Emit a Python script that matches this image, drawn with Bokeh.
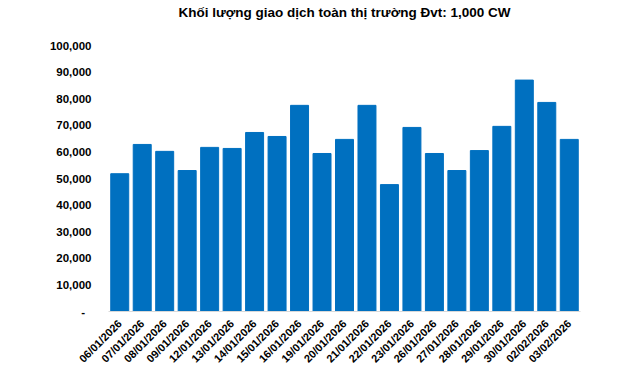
import math
from bokeh.plotting import figure
from bokeh.models import FactorRange, Range1d, CustomJSTickFormatter, FixedTicker, Title
from bokeh.embed import file_html
from bokeh.resources import INLINE

dates = ["06/01/2026", "07/01/2026", "08/01/2026", "09/01/2026", "12/01/2026",
         "13/01/2026", "14/01/2026", "15/01/2026", "16/01/2026", "19/01/2026",
         "20/01/2026", "21/01/2026", "22/01/2026", "23/01/2026", "26/01/2026",
         "27/01/2026", "28/01/2026", "29/01/2026", "30/01/2026", "02/02/2026",
         "03/02/2026"]
volumes = [51800, 62800, 60200, 53000, 61700, 61300, 67300, 65800, 77500, 59400,
           64700, 77500, 47700, 69200, 59400, 53000, 60500, 69600, 87000, 78600,
           64700]
y_ticks = [0, 10000, 20000, 30000, 40000, 50000, 60000, 70000, 80000, 90000, 100000]
title_text = "Khối lượng giao dịch toàn thị trường Đvt: 1,000 CW"

FONT = "Liberation Sans"

p = figure(width=640, height=372, x_range=FactorRange(*dates),
           y_range=Range1d(0, 100000), output_backend="svg",
           toolbar_location=None, title=None,
           min_border_left=108, min_border_right=60,
           min_border_top=0, min_border_bottom=61)

p.vbar(x=dates, top=volumes, width=0.8, color="#0070C0")

# spacer between title and plot area, then the title itself
p.add_layout(Title(text=" ", text_font_size="1px", standoff=20), "above")
p.add_layout(Title(text=title_text, align="center", offset=-7, text_font=FONT,
                   text_font_size="13.5px", text_font_style="bold",
                   text_color="#000000", standoff=5), "above")

p.xgrid.visible = False
p.ygrid.visible = False
p.outline_line_color = None

p.yaxis.ticker = FixedTicker(ticks=y_ticks)
p.yaxis.formatter = CustomJSTickFormatter(code="return tick == 0 ? '-  ' : tick.toLocaleString('en-US');")
p.yaxis.axis_line_color = None
p.yaxis.major_tick_line_color = None
p.yaxis.minor_tick_line_color = None
p.yaxis.major_label_standoff = 11
p.yaxis.major_label_text_font = FONT
p.yaxis.major_label_text_font_size = "11.5px"
p.yaxis.major_label_text_font_style = "bold"
p.yaxis.major_label_text_color = "#000000"

p.xaxis.axis_line_color = "#D9D9D9"
p.xaxis.axis_line_width = 1
p.xaxis.major_tick_line_color = None
p.xaxis.minor_tick_line_color = None
p.xaxis.major_label_orientation = math.pi / 4
p.xaxis.major_label_standoff = 4
p.xaxis.major_label_text_font = FONT
p.xaxis.major_label_text_font_size = "11px"
p.xaxis.major_label_text_font_style = "bold"
p.xaxis.major_label_text_color = "#000000"

p.x_range.range_padding = 0.0

open("out.html", "w").write(file_html(p, INLINE))
